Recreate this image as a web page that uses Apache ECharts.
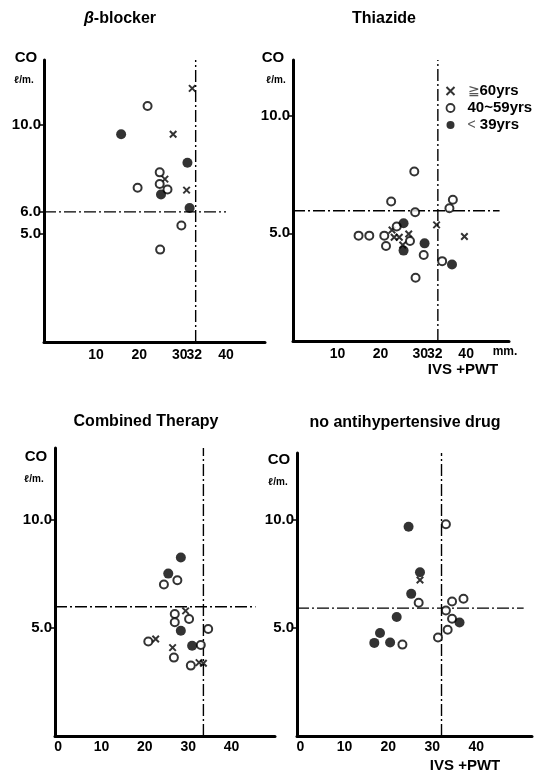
<!DOCTYPE html>
<html>
<head>
<meta charset="utf-8">
<script src="https://cdn.jsdelivr.net/npm/echarts@6/dist/echarts.min.js"></script>
<style>
  html, body { margin: 0; padding: 0; background: #fff; }
  #chart { width: 536px; height: 778px; }
</style>
</head>
<body>
<div id="chart"></div>
<script>
// tick labels
const xTicksTop = [10, 20, 30, 32, 40];
const xTicksBottom = [0, 10, 20, 30, 40];
const yTicksBeta = [5, 6, 10];
const yTicks = [5, 10];

// IVS+PWT (mm) vs CO (l/min), three age groups per panel
const betaOld = [[32.2, 11.69], [27.8, 9.58], [25.9, 7.51], [30.9, 7.0]];
const betaMid = [[21.9, 10.88], [24.7, 7.82], [24.7, 7.28], [19.6, 7.11], [26.5, 7.03], [29.7, 5.37], [24.8, 4.26]];
const betaYoung = [[15.8, 9.58], [31.1, 8.26], [25.0, 6.8], [31.6, 6.18]];

const thiaOld = [[33.1, 5.36], [22.7, 5.14], [23.2, 4.83], [24.4, 4.83], [26.6, 4.97], [25.2, 4.5], [39.6, 4.86]];
const thiaMid = [[27.9, 7.64], [22.5, 6.36], [36.9, 6.43], [36.1, 6.07], [28.1, 5.9], [23.8, 5.29], [14.9, 4.9],
  [17.4, 4.9], [20.9, 4.9], [26.9, 4.67], [21.3, 4.46], [30.1, 4.07], [34.4, 3.81], [28.2, 3.1]];
const thiaYoung = [[25.4, 5.43], [25.4, 4.26], [30.3, 4.57], [36.7, 3.67]];

const combOld = [[29.4, 5.78], [22.5, 4.48], [26.4, 4.08], [32.5, 3.39], [33.5, 3.36]];
const combMid = [[27.5, 7.19], [24.4, 7.0], [26.9, 5.63], [30.2, 5.4], [26.9, 5.25], [34.6, 4.94], [20.8, 4.36],
  [32.9, 4.2], [26.7, 3.62], [30.6, 3.25]];
const combYoung = [[28.3, 8.24], [25.4, 7.5], [28.3, 4.86], [30.9, 4.17]];

const noneOld = [[27.2, 7.22]];
const noneMid = [[33.1, 9.8], [26.9, 6.17], [34.5, 6.23], [37.1, 6.35], [33.1, 5.81], [34.5, 5.43], [33.5, 4.92],
  [31.3, 4.56], [23.2, 4.23]];
const noneYoung = [[24.6, 9.69], [27.2, 7.58], [25.2, 6.58], [21.9, 5.51], [36.2, 5.25], [18.1, 4.77], [16.8, 4.31],
  [20.4, 4.33]];

// dash-dot reference lines: x = refX, y = refY (ending at hLineEnd)
const refX = [33, 33.4, 33.5, 32.1];
const refY = [6.0, 5.96, 5.97, 5.92];
const hLineEnd = [40, 47.8, 45.5, 50.8];

const groupNames = ['≧60yrs', '40~59yrs', '< 39yrs'];
const panelData = [
  [betaOld, betaMid, betaYoung],
  [thiaOld, thiaMid, thiaYoung],
  [combOld, combMid, combYoung],
  [noneOld, noneMid, noneYoung]
];

const font = 'Liberation Sans, Arial, sans-serif';
const crossPath = 'path://M0,0L10,10M10,0L0,10';

const grids = [
  { left: 44, top: 60, width: 221, height: 282 },
  { left: 293, top: 60, width: 216, height: 281 },
  { left: 55, top: 448, width: 220, height: 288 },
  { left: 297, top: 453, width: 235, height: 283 }
];
const xRanges = [[-2, 49], [-0.4, 50], [-0.7, 50], [-0.8, 52.7]];
const yRanges = [[0, 13], [0.4, 12.4], [0, 13.3], [0, 13.1]];

const chart = echarts.init(document.getElementById('chart'));

const xAxes = grids.map((g, i) => ({
  type: 'value',
  gridIndex: i,
  min: xRanges[i][0],
  max: xRanges[i][1],
  axisLine: { onZero: false, lineStyle: { color: '#000', width: 3 } },
  axisTick: { show: false },
  splitLine: { show: false },
  axisLabel: {
    customValues: i < 2 ? xTicksTop : xTicksBottom,
    margin: i < 2 ? 6 : 4,
    color: '#000',
    fontFamily: font,
    fontWeight: 'bold',
    fontSize: 14,
    hideOverlap: false,
    formatter: v => (v === 30 && i < 2) ? '{l|30}' : (v === 32 ? '{r|32}' : String(v)),
    rich: {
      l: { fontFamily: font, fontWeight: 'bold', fontSize: 14, color: '#000', padding: [0, 6, 0, 0] },
      r: { fontFamily: font, fontWeight: 'bold', fontSize: 14, color: '#000', padding: [0, 0, 0, 6] }
    }
  }
}));

const yAxes = grids.map((g, i) => ({
  type: 'value',
  gridIndex: i,
  min: yRanges[i][0],
  max: yRanges[i][1],
  axisLine: { onZero: false, lineStyle: { color: '#000', width: 3 } },
  axisTick: { customValues: i === 0 ? yTicksBeta : yTicks, length: 4, lineStyle: { color: '#000', width: 1.5 } },
  splitLine: { show: false },
  axisLabel: {
    customValues: i === 0 ? yTicksBeta : yTicks,
    margin: 3,
    color: '#000',
    fontFamily: font,
    fontWeight: 'bold',
    fontSize: 15,
    formatter: v => v.toFixed(1)
  }
}));

const symbolStyles = [
  { symbol: crossPath, symbolSize: 6.5, itemStyle: { color: 'none', borderColor: '#000', borderWidth: 2 } },
  { symbol: 'circle', symbolSize: 8, itemStyle: { color: '#fff', borderColor: '#000', borderWidth: 2 } },
  { symbol: 'circle', symbolSize: 10, itemStyle: { color: '#000', borderColor: '#000', borderWidth: 0 } }
];

const series = [];
panelData.forEach((groups, i) => {
  const dash = { color: '#000', width: 1.4, type: [12, 3, 2, 3] };
  series.push({
    type: 'line', xAxisIndex: i, yAxisIndex: i, symbol: 'none', silent: true,
    lineStyle: dash,
    data: [[refX[i], yRanges[i][0]], [refX[i], yRanges[i][1]]]
  });
  series.push({
    type: 'line', xAxisIndex: i, yAxisIndex: i, symbol: 'none', silent: true,
    lineStyle: dash,
    data: [[xRanges[i][0], refY[i]], [hLineEnd[i], refY[i]]]
  });
  groups.forEach((pts, k) => {
    series.push(Object.assign({
      name: groupNames[k],
      type: 'scatter',
      xAxisIndex: i,
      yAxisIndex: i,
      data: pts,
      z: 3 + k
    }, symbolStyles[k]));
  });
});

const titleStyle = { fontFamily: font, fontWeight: 'bold', fontSize: 16, color: '#000' };
const coStyle = { fontFamily: font, fontWeight: 'bold', fontSize: 15, color: '#000' };
const unitStyle = { fontFamily: font, fontWeight: 'bold', fontSize: 10, color: '#000' };

function label(text, x, y, style, align) {
  return { text: text, left: x, top: y, textAlign: align || 'center', textVerticalAlign: 'middle', padding: 0, textStyle: style };
}

const option = {
  animation: false,
  backgroundColor: '#fff',
  grid: grids,
  xAxis: xAxes,
  yAxis: yAxes,
  title: [
    {
      text: '{b|β}-blocker', left: 120, top: 19, textAlign: 'center', textVerticalAlign: 'middle', padding: 0,
      textStyle: Object.assign({}, titleStyle, { rich: { b: Object.assign({}, titleStyle, { fontStyle: 'italic' }) } })
    },
    label('Thiazide', 384, 19, titleStyle),
    label('Combined Therapy', 146, 422, titleStyle),
    label('no antihypertensive drug', 405, 423, titleStyle),
    label('CO', 26, 58, coStyle),
    label('ℓ/m.', 24, 80, unitStyle),
    label('CO', 273, 58, coStyle),
    label('ℓ/m.', 276, 80, unitStyle),
    label('CO', 36, 457, coStyle),
    label('ℓ/m.', 34, 479, unitStyle),
    label('CO', 279, 460, coStyle),
    label('ℓ/m.', 278, 482, unitStyle),
    label('mm.', 505, 352, { fontFamily: font, fontWeight: 'bold', fontSize: 12, color: '#000' }),
    label('IVS +PWT', 463, 370, coStyle),
    label('IVS +PWT', 465, 766, coStyle)
  ],
  legend: {
    orient: 'vertical',
    left: 439,
    top: 78,
    itemWidth: 8,
    itemHeight: 8,
    itemGap: 1,
    selectedMode: false,
    data: [
      { name: groupNames[0], icon: crossPath, itemStyle: { color: 'none', borderColor: '#000', borderWidth: 2 } },
      { name: groupNames[1], icon: 'circle', itemStyle: { color: '#fff', borderColor: '#000', borderWidth: 1.8 } },
      { name: groupNames[2], icon: 'circle', itemStyle: { color: '#000', borderColor: '#000', borderWidth: 0 } }
    ],
    formatter: name => name.charAt(0) === '≧' ? '{s|≧}' + name.slice(1)
      : name.charAt(0) === '<' ? '{s|<} ' + name.slice(2) : name,
    textStyle: {
      fontFamily: font, fontWeight: 'bold', fontSize: 15, color: '#000', lineHeight: 16, padding: [0, 0, 0, 8],
      rich: {
        s: { fontFamily: font, fontWeight: 'normal', fontSize: 14, color: '#555' }
      }
    }
  },
  series: series
};

chart.setOption(option);
</script>
</body>
</html>
